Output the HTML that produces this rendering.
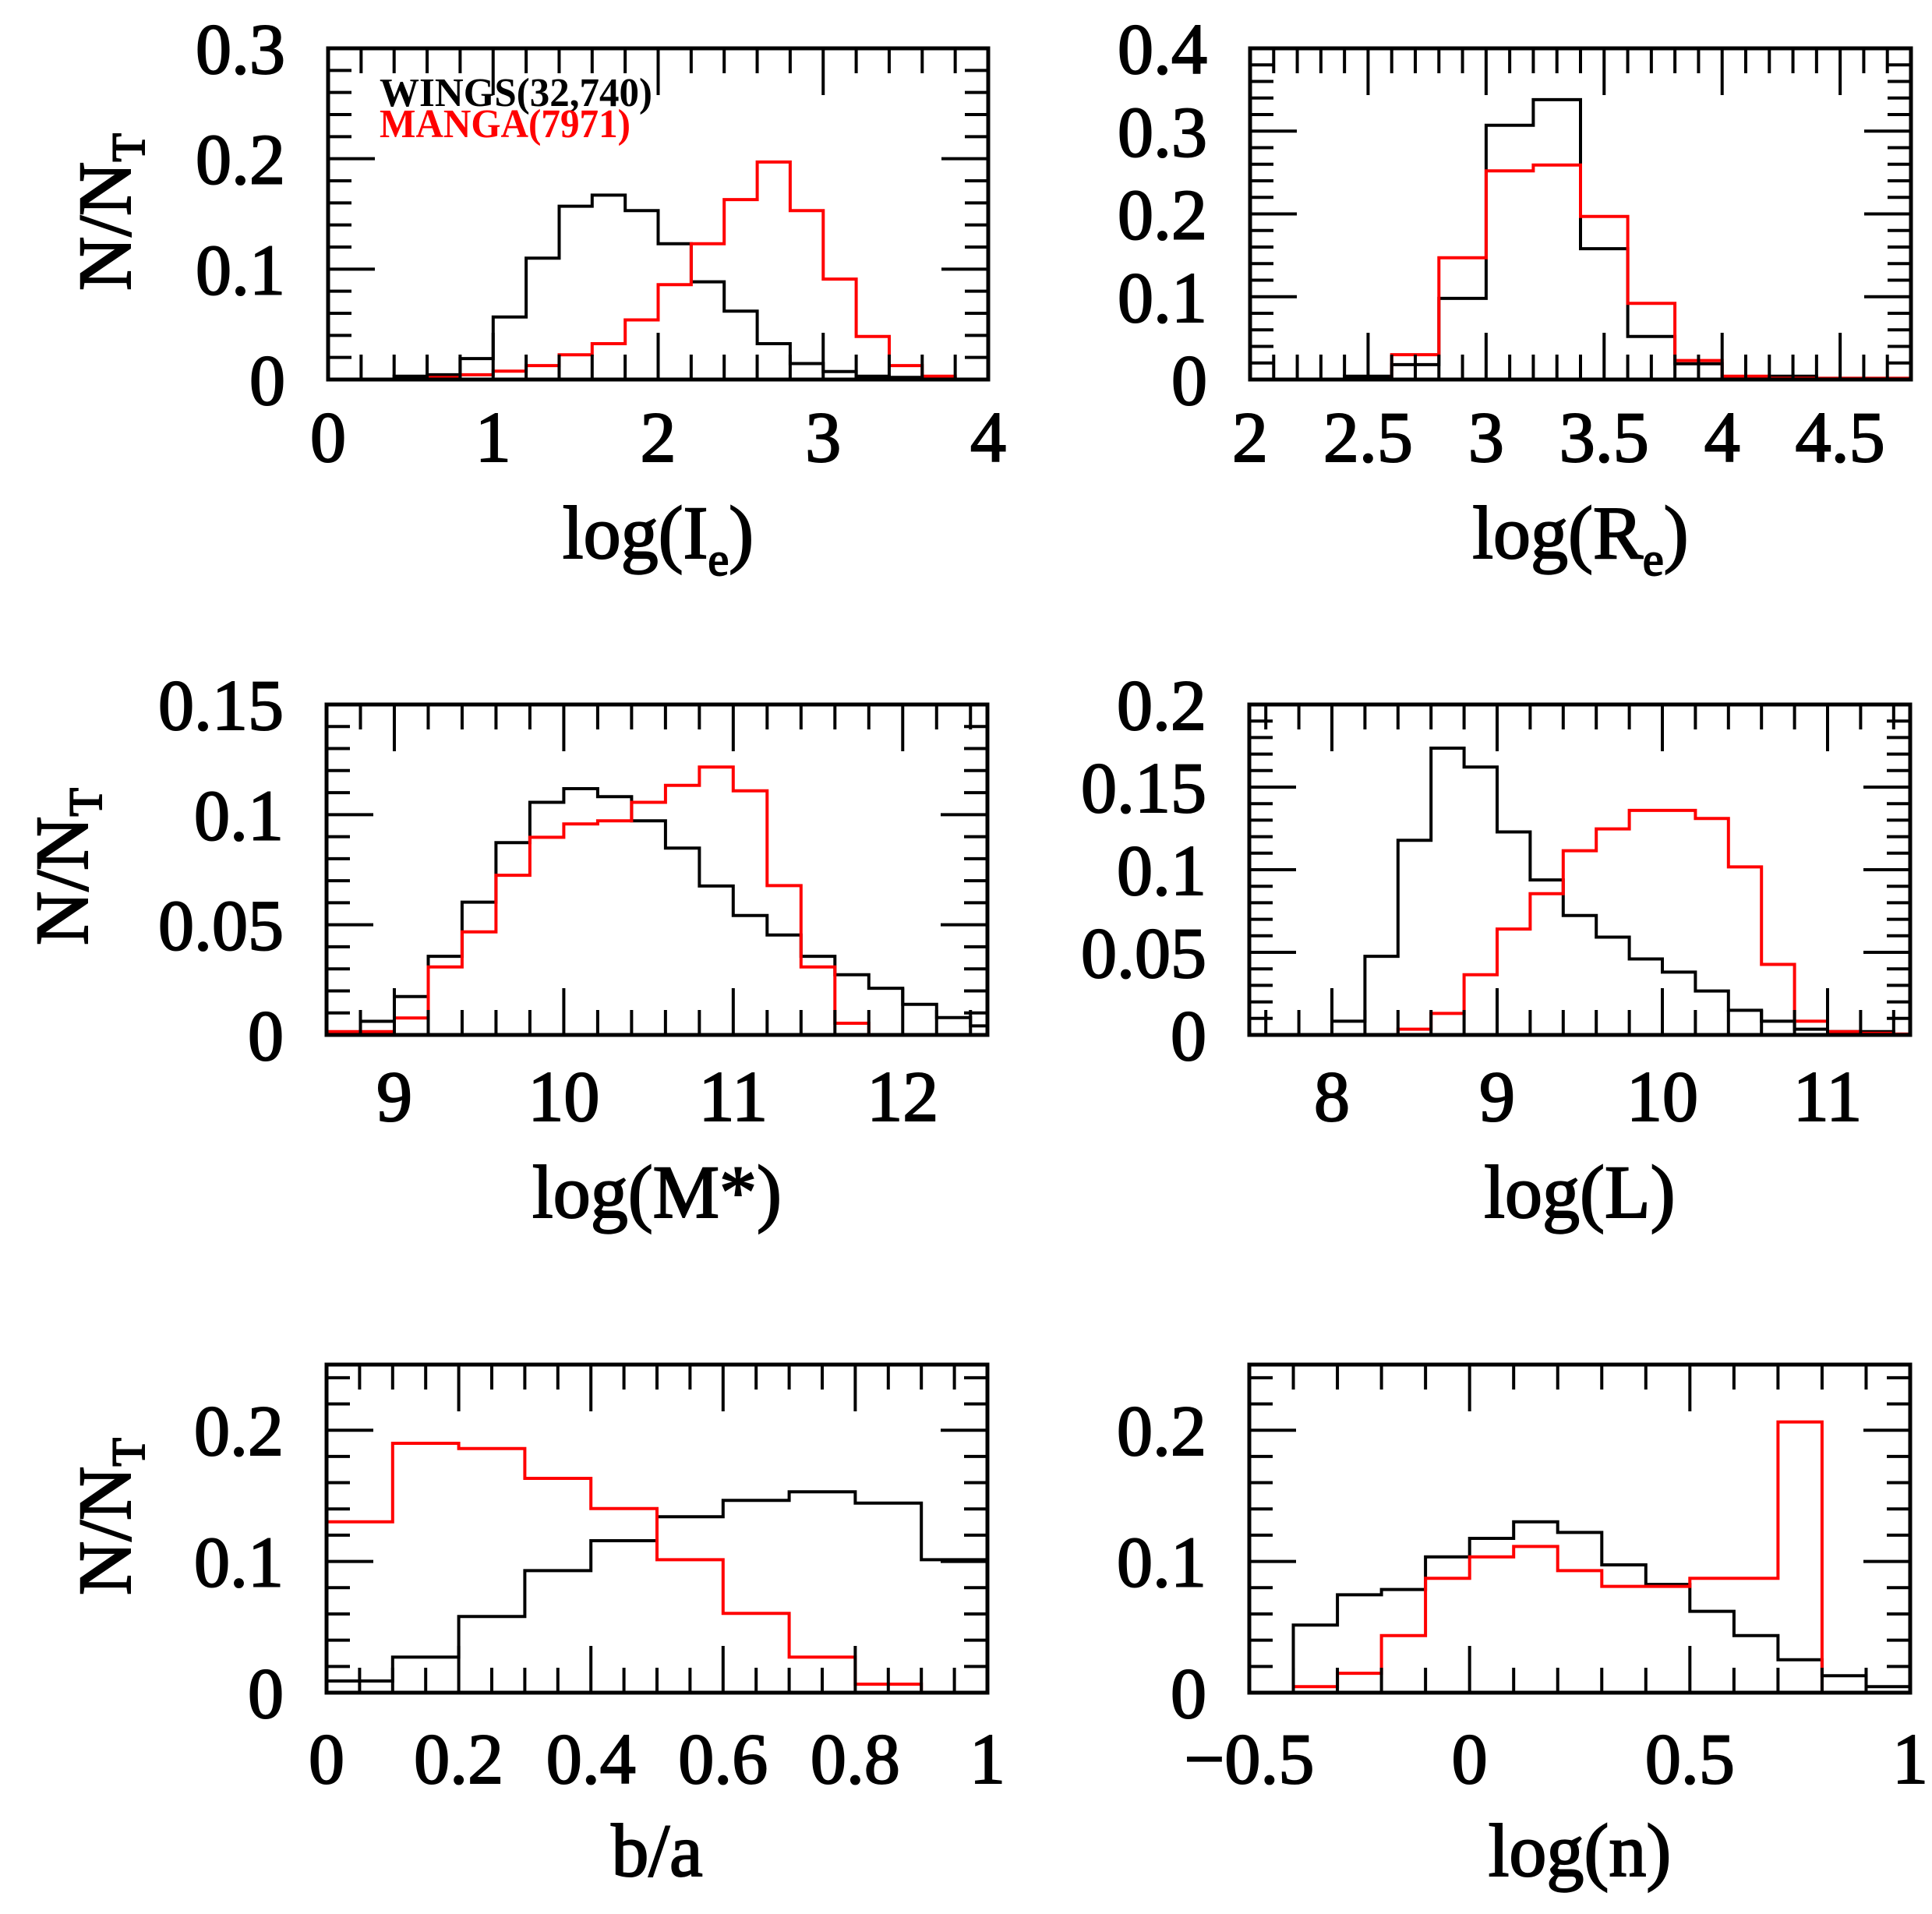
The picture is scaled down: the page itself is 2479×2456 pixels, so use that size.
<!DOCTYPE html>
<html><head><meta charset="utf-8"><style>
html,body{margin:0;padding:0;background:#fff;}
svg{display:block;}
text{font-family:"Liberation Serif",serif;fill:#000;}
</style></head><body>
<svg id="fig" width="2479" height="2456" viewBox="0 0 2479 2456" xmlns="http://www.w3.org/2000/svg"></svg>
<script>
// ---- data (bin starts, bin width, values) ----
const ieBinStart = 0, ieBinWidth = 0.2;
const ieWings = [0,0,0.003,0.0043,0.019,0.0567,0.11,0.157,0.167,0.153,0.123,0.0885,0.062,0.0325,0.0145,0.0072,0.003,0.002,0.001,0];
const ieManga = [0,0,0,0.0018,0.0043,0.0076,0.0126,0.0224,0.0325,0.054,0.086,0.123,0.163,0.197,0.153,0.091,0.039,0.0126,0.003,0];
const reBinStart = 2.0, reBinWidth = 0.2;
const reWings = [0,0,0.004,0.018,0.098,0.307,0.338,0.158,0.052,0.019,0.003,0.004,0,0];
const reManga = [0,0,0,0.030,0.147,0.252,0.259,0.197,0.092,0.023,0.004,0.0015,0.0015,0.0015];
const msBinStart = 8.6, msBinWidth = 0.2;
const msWings = [0.001,0.0062,0.0174,0.0357,0.0603,0.0873,0.1056,0.1118,0.1082,0.0972,0.0848,0.0676,0.0542,0.0454,0.0357,0.0273,0.0212,0.0139,0.0079,0.0041];
const msManga = [0.0015,0.0015,0.0077,0.0309,0.0468,0.0725,0.0897,0.0958,0.0972,0.1056,0.1133,0.1216,0.1108,0.0678,0.0309,0.0053,0,0,0,0];
const lBinStart = 8.0, lBinWidth = 0.2;
const lWings = [0.0083,0.0476,0.1178,0.1736,0.1621,0.1229,0.0938,0.0723,0.0592,0.046,0.038,0.0266,0.0149,0.0083,0.0035,0.002,0.002,0];
const lManga = [0,0,0.0035,0.013,0.0364,0.0641,0.0855,0.1115,0.1247,0.1359,0.1359,0.131,0.1017,0.0427,0.0083,0.002,0.001,0.0005];
const baBinStart = 0, baBinWidth = 0.1;
const baWings = [0.0089,0.0271,0.058,0.093,0.1158,0.134,0.1465,0.153,0.1445,0.1013];
const baManga = [0.1302,0.19,0.186,0.1633,0.1403,0.1013,0.0604,0.0271,0.0065,0];
const nBinStart = -0.5, nBinWidth = 0.1;
const nWings = [0,0.0515,0.0746,0.0786,0.1035,0.1176,0.1302,0.1221,0.0974,0.0825,0.062,0.0435,0.0251,0.0129,0.0046];
const nManga = [0,0.0046,0.0148,0.0435,0.0871,0.1035,0.1114,0.093,0.081,0.081,0.0871,0.0871,0.2063,0,0];
// tick labels
const ieXLabels = ["0","1","2","3","4"], ieXVals=[0,1,2,3,4];
const ieYLabels = ["0","0.1","0.2","0.3"], ieYVals=[0,0.1,0.2,0.3];
const reXLabels = ["2","2.5","3","3.5","4","4.5"], reXVals=[2,2.5,3,3.5,4,4.5];
const reYLabels = ["0","0.1","0.2","0.3","0.4"], reYVals=[0,0.1,0.2,0.3,0.4];
const msXLabels = ["9","10","11","12"], msXVals=[9,10,11,12];
const msYLabels = ["0","0.05","0.1","0.15"], msYVals=[0,0.05,0.1,0.15];
const lXLabels = ["8","9","10","11"], lXVals=[8,9,10,11];
const lYLabels = ["0","0.05","0.1","0.15","0.2"], lYVals=[0,0.05,0.1,0.15,0.2];
const baXLabels = ["0","0.2","0.4","0.6","0.8","1"], baXVals=[0,0.2,0.4,0.6,0.8,1];
const baYLabels = ["0","0.1","0.2"], baYVals=[0,0.1,0.2];
const nXLabels = ["\u22120.5","0","0.5","1"], nXVals=[-0.5,0,0.5,1];
const nYLabels = ["0","0.1","0.2"], nYVals=[0,0.1,0.2];

const NS="http://www.w3.org/2000/svg";
const svg=document.getElementById('fig');
function mk(tag,attrs,parent){const e=document.createElementNS(NS,tag);for(const k in attrs)e.setAttribute(k,attrs[k]);(parent||svg).appendChild(e);return e;}

const panels=[
 {id:'log-ie',L:421,R:1268,T:62,B:487,x0:0,x1:4,y0:0,y1:0.3,xMaj:1,xMin:0.2,yMaj:0.1,yMin:0.02,bs:ieBinStart,bw:ieBinWidth,w:ieWings,m:ieManga,xl:ieXLabels,xv:ieXVals,yl:ieYLabels,yv:ieYVals,title:['log(I','e',')'],ytitle:{x:135,y:272},xly:560,tly:684},
 {id:'log-re',L:1604,R:2452,T:62,B:487,x0:2,x1:4.8,y0:0,y1:0.4,xMaj:0.5,xMin:0.1,yMaj:0.1,yMin:0.02,bs:reBinStart,bw:reBinWidth,w:reWings,m:reManga,xl:reXLabels,xv:reXVals,yl:reYLabels,yv:reYVals,title:['log(R','e',')'],xly:560,tly:684},
 {id:'log-mstar',L:419,R:1267,T:904,B:1328,x0:8.6,x1:12.5,y0:0,y1:0.15,xMaj:1,xMin:0.2,yMaj:0.05,yMin:0.01,bs:msBinStart,bw:msBinWidth,w:msWings,m:msManga,xl:msXLabels,xv:msXVals,yl:msYLabels,yv:msYVals,title:['log(M*)','',''],ytitle:{x:80,y:1112},xly:1406,tly:1530},
 {id:'log-l',L:1603,R:2451,T:904,B:1328,x0:7.5,x1:11.5,y0:0,y1:0.2,xMaj:1,xMin:0.2,yMaj:0.05,yMin:0.01,bs:lBinStart,bw:lBinWidth,w:lWings,m:lManga,xl:lXLabels,xv:lXVals,yl:lYLabels,yv:lYVals,title:['log(L)','',''],xly:1406,tly:1530},
 {id:'b-over-a',L:419,R:1267,T:1751,B:2172,x0:0,x1:1,y0:0,y1:0.25,xMaj:0.2,xMin:0.05,yMaj:0.1,yMin:0.02,bs:baBinStart,bw:baBinWidth,w:baWings,m:baManga,xl:baXLabels,xv:baXVals,yl:baYLabels,yv:baYVals,title:['b/a','',''],ytitle:{x:135,y:1946},xly:2256,tly:2375},
 {id:'log-n',L:1603,R:2451,T:1751,B:2172,x0:-0.5,x1:1,y0:0,y1:0.25,xMaj:0.5,xMin:0.1,yMaj:0.1,yMin:0.02,bs:nBinStart,bw:nBinWidth,w:nWings,m:nManga,xl:nXLabels,xv:nXVals,yl:nYLabels,yv:nYVals,title:['log(n)','',''],xly:2256,tly:2375}
];

panels.forEach(p=>{
  const g=mk('g',{});
  
  
  const X=v=>p.L+(v-p.x0)/(p.x1-p.x0)*(p.R-p.L);
  const Y=v=>p.B-(v-p.y0)/(p.y1-p.y0)*(p.B-p.T);
  [[p.w,'#000','wings'],[p.m,'#f00','manga']].forEach(([vals,col,nm])=>{
    let d='';
    vals.forEach((v,i)=>{
      const xa=X(Math.max(p.bs+i*p.bw,p.x0)), xb=X(Math.min(p.bs+(i+1)*p.bw,p.x1));
      d+=(i===0?'M':'L')+xa.toFixed(1)+','+Y(v).toFixed(1)+'L'+xb.toFixed(1)+','+Y(v).toFixed(1);
    });
    const path=mk('path',{d:d,fill:'none',stroke:col,'stroke-width':4},g);
    
    
  });
  const tg=mk('g',{stroke:'#000','stroke-width':4},g);
  
  
  const eps=1e-6;
  const xs=Math.ceil(p.x0/p.xMin-eps);
  for(let k=xs;k*p.xMin<=p.x1+eps;k++){
    const v=k*p.xMin; const maj=Math.abs(v/p.xMaj-Math.round(v/p.xMaj))<1e-4;
    const len=maj?60:32; const x=X(v);
    mk('line',{x1:x,y1:p.B,x2:x,y2:p.B-len},tg);
    mk('line',{x1:x,y1:p.T,x2:x,y2:p.T+len},tg);
  }
  const ys=Math.ceil(p.y0/p.yMin-eps);
  for(let k=ys;k*p.yMin<=p.y1+eps;k++){
    const v=k*p.yMin; const maj=Math.abs(v/p.yMaj-Math.round(v/p.yMaj))<1e-4;
    const len=maj?60:30; const y=Y(v);
    mk('line',{x1:p.L,y1:y,x2:p.L+len,y2:y},tg);
    mk('line',{x1:p.R,y1:y,x2:p.R-len,y2:y},tg);
  }
  const fr=mk('rect',{x:p.L,y:p.T,width:p.R-p.L,height:p.B-p.T,fill:'none',stroke:'#000','stroke-width':5},g);
  
  
  p.xl.forEach((s,i)=>{
    const t=mk('text',{x:X(p.xv[i]),y:p.xly+32,'text-anchor':'middle','font-size':92,stroke:'#000','stroke-width':2},g);
    
    
    t.textContent=s;
  });
  p.yl.forEach((s,i)=>{
    const t=mk('text',{x:p.L-55,y:Y(p.yv[i])+32,'text-anchor':'end','font-size':92,stroke:'#000','stroke-width':2},g);
    
    
    t.textContent=s;
  });
  const xt=mk('text',{x:(p.L+p.R)/2,y:p.tly+32,'text-anchor':'middle','font-size':96,stroke:'#000','stroke-width':2},g);
  
  
  xt.appendChild(document.createTextNode(p.title[0]));
  if(p.title[1]){const s=mk('tspan',{'font-size':60,dy:22},xt);s.textContent=p.title[1];const s2=mk('tspan',{dy:-22},xt);s2.textContent=p.title[2];}
  if(p.ytitle){
    const yt=mk('text',{x:0,y:0,'text-anchor':'middle','font-size':96,stroke:'#000','stroke-width':2,transform:`translate(${p.ytitle.x+32},${p.ytitle.y}) rotate(-90)`},g);
    
    
    yt.appendChild(document.createTextNode('N/N'));
    const s=mk('tspan',{'font-size':60,dy:18},yt);s.textContent='T';
  }
});
const lg=mk('g',{});


const l1=mk('text',{x:487,y:136,'font-size':52,'font-weight':'bold',textLength:350,lengthAdjust:'spacingAndGlyphs'},lg);


l1.textContent='WINGS(32,740)';
const l2=mk('text',{x:487,y:176,'font-size':52,'font-weight':'bold',fill:'#f00',style:'fill:#f00',textLength:322,lengthAdjust:'spacingAndGlyphs'},lg);


l2.textContent='MANGA(7971)';
</script>
</body></html>
